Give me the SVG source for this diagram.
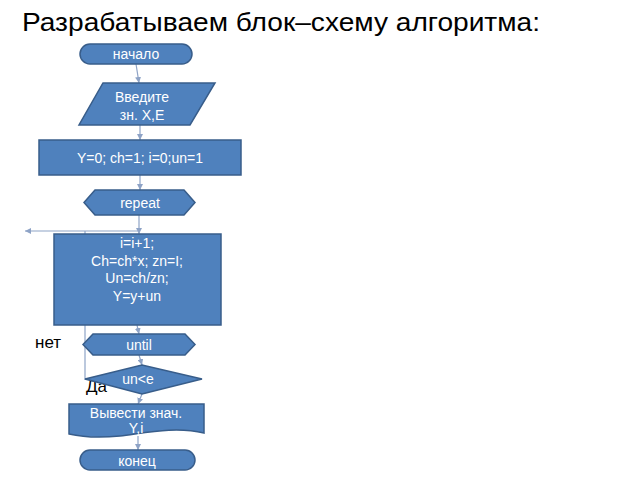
<svg xmlns="http://www.w3.org/2000/svg" width="640" height="480" viewBox="0 0 640 480">
<defs>
<style>
.s{fill:#4f81bd;stroke:#385d8a;stroke-width:1.5}
.t{fill:#fff;font-family:"Liberation Sans",Arial,sans-serif;font-size:14px;text-anchor:middle}
.c{fill:none;stroke:#8ea3c6;stroke-width:1.2}
.k{fill:#000;font-family:"Liberation Sans",Arial,sans-serif}
</style>
<marker id="a" viewBox="0 0 6 6" refX="6" refY="3" markerWidth="5" markerHeight="5" orient="auto">
<path d="M0,0L6,3L0,6z" fill="#8ea3c6"/>
</marker>
</defs>
<rect width="640" height="480" fill="#fff"/>
<text class="k" x="22" y="31" font-size="26" textLength="518" lengthAdjust="spacingAndGlyphs">Разрабатываем блок–схему алгоритма:</text>
<text class="k" x="35" y="348" font-size="17">нет</text>
<text class="k" x="86" y="392" font-size="17">Да</text>
<g id="connectors">
<line class="c" x1="136" y1="64" x2="139" y2="83" marker-end="url(#a)"/>
<line class="c" x1="140" y1="125" x2="140" y2="140" marker-end="url(#a)"/>
<line class="c" x1="140" y1="175" x2="140" y2="190" marker-end="url(#a)"/>
<line class="c" x1="139" y1="215" x2="139" y2="234" marker-end="url(#a)"/>
<line class="c" x1="139" y1="231" x2="25" y2="231" marker-end="url(#a)"/>
<line class="c" x1="85" y1="231" x2="85" y2="380"/>
<line class="c" x1="137" y1="325" x2="139" y2="334" marker-end="url(#a)"/>
<line class="c" x1="139" y1="355" x2="142" y2="365" marker-end="url(#a)"/>
<line class="c" x1="142" y1="394" x2="138" y2="404" marker-end="url(#a)"/>
<line class="c" x1="138" y1="436" x2="138" y2="450" marker-end="url(#a)"/>
</g>
<g id="start">
<rect class="s" x="80" y="44" width="112" height="20" rx="10"/>
<text class="t" x="136" y="59">начало</text>
</g>
<g id="input">
<polygon class="s" points="103,83 215,83 190,125 79,125"/>
<text class="t" x="142" y="102" font-size="15">Введите</text>
<text class="t" x="142" y="120">зн. X,E</text>
</g>
<g id="init">
<rect class="s" x="39" y="140" width="202" height="35"/>
<text class="t" x="140" y="162.5">Y=0; ch=1;  i=0;un=1</text>
</g>
<g id="repeat">
<polygon class="s" points="84,202.5 95,190 184,190 195,202.5 184,215 95,215"/>
<text class="t" x="140" y="207.5">repeat</text>
</g>
<g id="body">
<rect class="s" x="54" y="234" width="167" height="91"/>
<text class="t" x="137" y="248">i=i+1;</text>
<text class="t" x="137" y="265.5">Ch=ch*x;  zn=I;</text>
<text class="t" x="137" y="283">Un=ch/zn;</text>
<text class="t" x="137" y="300.5">Y=y+un</text>
</g>
<g id="until">
<polygon class="s" points="83,344.5 93,334 185,334 195,344.5 185,355 93,355"/>
<text class="t" x="139" y="350" font-size="15">until</text>
</g>
<g id="cond">
<polygon class="s" points="85,379 142,365 202,379 142,394"/>
<text class="t" x="138" y="384" font-size="12">un&lt;e</text>
</g>
<g id="output">
<path class="s" d="M69,404H204V433C175,426 145,433 120,436C100,438 82,437 69,434Z"/>
<text class="t" x="136" y="418" font-size="15">Вывести знач.</text>
<text class="t" x="136" y="433">Y,i</text>
</g>
<g id="end">
<rect class="s" x="80" y="450" width="115" height="20" rx="10"/>
<text class="t" x="137" y="465.5" font-size="15">конец</text>
</g>
</svg>
